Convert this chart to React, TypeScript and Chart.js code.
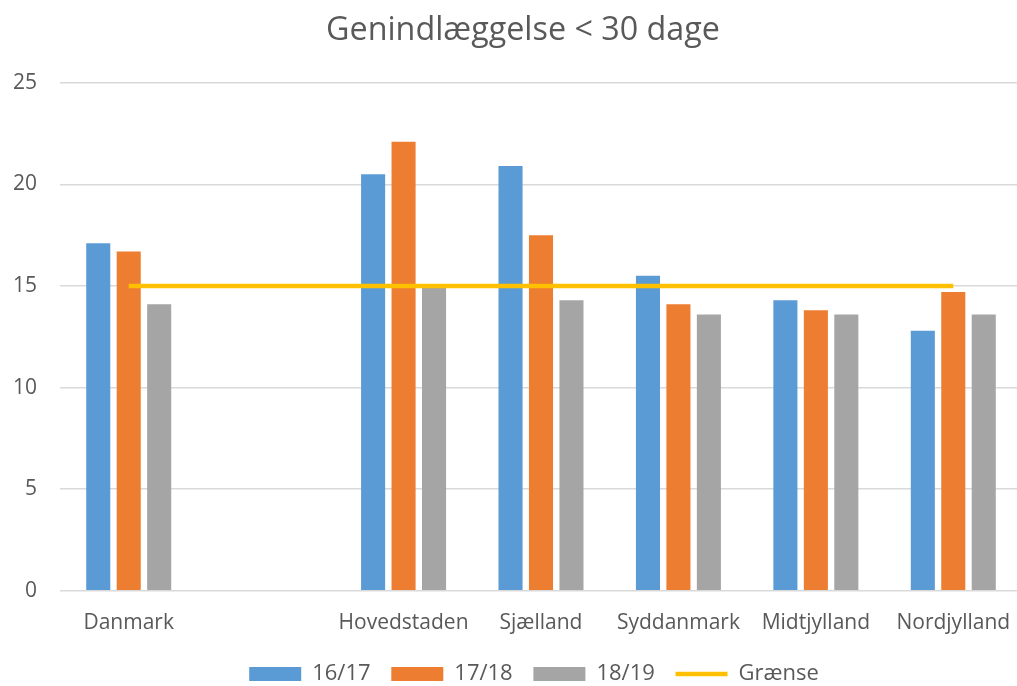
import { useEffect, useRef } from "react";
import { Chart, registerables } from "chart.js";

Chart.register(...registerables);

const categories = ["Danmark", "", "Hovedstaden", "Sjælland", "Syddanmark", "Midtjylland", "Nordjylland"];
const s1617 = [17.1, null, 20.5, 20.9, 15.5, 14.3, 12.8];
const s1718 = [16.7, null, 22.1, 17.5, 14.1, 13.8, 14.7];
const s1819 = [14.1, null, 14.9, 14.3, 13.6, 13.6, 13.6];
const graense = [15, 15, 15, 15, 15, 15, 15];
const seriesNames = ["16/17", "17/18", "18/19", "Grænse"];
const titleText = "Genindlæggelse < 30 dage";

const FONT = "'Open Sans', sans-serif";
const TEXT = "#595959";

const layoutTweaks = {
  id: "layoutTweaks",
  afterLayout(chart: any) {
    const y = chart.scales.y;
    if (y) y.left = 0;
    const lg = chart.legend;
    if (lg) {
      lg.left -= 7;
      lg.right -= 7;
    }
  },
};

export default function App() {
  const ref = useRef<HTMLCanvasElement | null>(null);

  useEffect(() => {
    document.body.style.overflow = "hidden";
    const canvas = ref.current;
    if (!canvas) return;
    const barCommon = {
      type: "bar" as const,
      categoryPercentage: 0.665,
      barPercentage: 0.79,
      borderWidth: 0,
      order: 1,
    };
    const chart = new Chart(canvas, {
      type: "bar",
      data: {
        labels: categories,
        datasets: [
          { ...barCommon, label: seriesNames[0], data: s1617, backgroundColor: "#5B9BD5" },
          { ...barCommon, label: seriesNames[1], data: s1718, backgroundColor: "#ED7D31" },
          { ...barCommon, label: seriesNames[2], data: s1819, backgroundColor: "#A5A5A5" },
          {
            type: "line" as const,
            label: seriesNames[3],
            data: graense,
            borderColor: "#FFC000",
            backgroundColor: "#FFC000",
            borderWidth: 4.5,
            pointRadius: 0,
            order: 0,
          },
        ],
      } as any,
      options: {
        animation: false,
        responsive: true,
        maintainAspectRatio: false,
        layout: { padding: { left: 24, right: 10, top: 0, bottom: 4 } },
        plugins: {
          tooltip: { enabled: false },
          title: {
            display: true,
            text: titleText,
            color: TEXT,
            font: { family: FONT, size: 32.3, weight: "normal" },
            padding: { top: 11, bottom: 33 },
          },
          legend: {
            position: "bottom",
            fullSize: false,
            labels: {
              color: TEXT,
              font: { family: FONT, size: 22 },
              usePointStyle: true,
              pointStyleWidth: 52,
              boxHeight: 14,
              padding: 15,
              sort: (a: any, b: any) => a.datasetIndex - b.datasetIndex,
              generateLabels: (c: any) => {
                const items = (Chart.defaults.plugins.legend.labels as any).generateLabels(c);
                items.forEach((it: any) => {
                  if (it.datasetIndex === 3) {
                    it.pointStyle = "line";
                    it.lineWidth = 4.5;
                    it.strokeStyle = "#FFC000";
                  } else {
                    it.pointStyle = "rect";
                    it.lineWidth = 0;
                    it.text = it.text + " ";
                  }
                });
                return items;
              },
            },
          },
        },
        scales: {
          x: {
            grid: { display: false },
            border: { display: false },
            ticks: { color: TEXT, font: { family: FONT, size: 21 }, padding: 12, maxRotation: 0, autoSkip: false },
          },
          y: {
            min: 0,
            max: 25,
            ticks: { stepSize: 5, color: TEXT, font: { family: FONT, size: 21 }, padding: 23 },
            grid: { color: "#D9D9D9", lineWidth: 1.5, drawTicks: false },
            border: { display: false },
            afterFit: (scale: any) => {
              scale.width = 36;
            },
          },
        },
      } as any,
      plugins: [layoutTweaks],
    });
    return () => chart.destroy();
  }, []);

  return (
    <div style={{ position: "fixed", left: 0, top: 0, width: 1032, height: 699, background: "#fff" }}>
      <canvas ref={ref} />
    </div>
  );
}
